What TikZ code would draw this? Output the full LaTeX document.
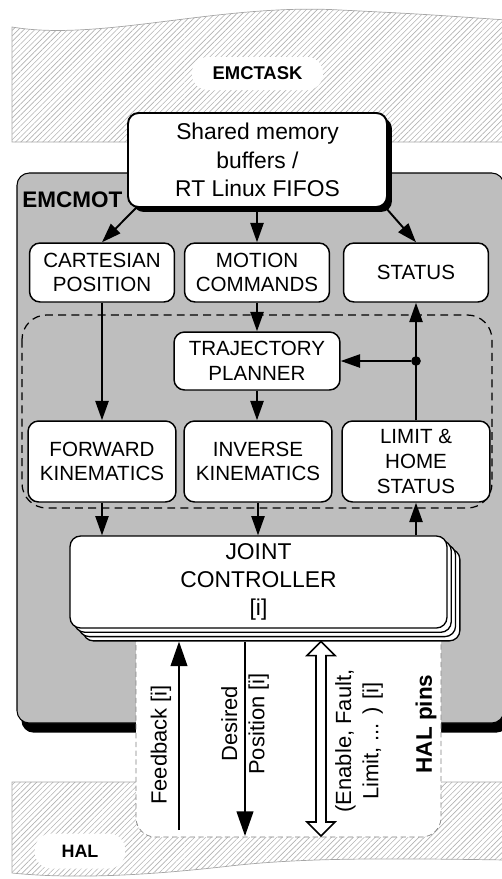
\documentclass[tikz,border=0pt]{standalone}
\usepackage{fontspec}
\setmainfont{Liberation Sans}
\usepackage{tikz}
\usetikzlibrary{positioning,calc,arrows.meta,patterns.meta,shadows}
\definecolor{emcgray}{RGB}{190,190,190}

\begin{document}
\begin{tikzpicture}[x=0.02cm,y=-0.02cm,
    hatch/.style={draw=gray!70,line width=0.4pt,pattern={Lines[angle=45,distance=2.2pt,line width=0.35pt]},pattern color=gray!60},
    blob/.style={fill=white,rounded corners=9pt,inner sep=0pt},
    block/.style={draw,fill=white,rounded corners=6pt,line width=0.85pt,align=center,inner sep=0pt,font=\fontsize{11.7}{14}\selectfont},
    jcbox/.style={draw,fill=white,rounded corners=6pt,line width=0.75pt,minimum width=7.54cm,minimum height=1.84cm,inner sep=0pt,align=center,font=\fontsize{13}{15.9}\selectfont},
    flow/.style={line width=1.1pt,-{Triangle[length=11pt,width=7.5pt]}},
    pinflow/.style={line width=1.1pt,-{Triangle[length=14pt,width=9.5pt]}},
    dot/.style={circle,fill,inner sep=0pt,minimum size=5.5pt},
    pinlabel/.style={rotate=90,align=center,font=\fontsize{12.5}{15.5}\selectfont}]

\useasboundingbox (0,0) rectangle (502,879);

\path[hatch] (12,27) .. controls (100,42) and (220,3) .. (340,10) .. controls (420,14) .. (506,20) -- (506,142) -- (12,142) -- cycle;
\node[blob,minimum width=2.62cm,minimum height=0.66cm,font=\bfseries\fontsize{10.5}{12}\selectfont] (emctask) at (257.5,73.5) {EMCTASK};

\path[hatch] (12,782) -- (506,782) -- (506,860) .. controls (380,858) and (300,858) .. (230,866) .. controls (160,874) and (80,880) .. (12,873) -- cycle;
\node[blob,minimum width=1.8cm,minimum height=0.7cm,font=\bfseries\fontsize{10.2}{12}\selectfont] (hal) at (80,851) {HAL};

\draw[fill=emcgray,line width=0.6pt,rounded corners=7pt,drop shadow={shadow xshift=2.5pt,shadow yshift=-5.5pt,opacity=1,fill=black}] (17,173) rectangle (504,723);
\node[anchor=west,inner sep=0pt,font=\bfseries\fontsize{12.8}{14}\selectfont] (emcmot) at (22,199.5) {EMCMOT};

\draw[fill=white,draw=gray,densely dashed,line width=0.4pt,rounded corners=11pt] (136,610) -- (136,837) -- (441,837) -- (441,610);

\draw[dash pattern=on 4.5pt off 3pt,line width=0.7pt,rounded corners=14pt] (22,315) rectangle (492,508);

\node[draw,fill=white,rounded corners=6pt,line width=1.1pt,minimum width=5.18cm,minimum height=1.88cm,inner sep=0pt,align=center,
      font=\fontsize{13}{16.4}\selectfont,drop shadow={shadow xshift=2.8pt,shadow yshift=-2.8pt,opacity=1,fill=black}]
    (shm) at (257.5,160) {Shared memory\\buffers /\\RT Linux FIFOS};

\foreach \x/\name/\txt in {102/cart/{CARTESIAN\\POSITION},257/motion/{MOTION\\COMMANDS},416/status/STATUS} {
    \node[block,minimum width=2.9cm,minimum height=1.18cm] (\name) at (\x,272.5) {\txt};
}
\node[block,minimum width=3.32cm,minimum height=1.16cm] (traj) at (257,361) {TRAJECTORY\\PLANNER};
\foreach \x/\name/\txt in {102/fwd/{FORWARD\\KINEMATICS},258/inv/{INVERSE\\KINEMATICS},416/limit/{LIMIT \&\\HOME\\STATUS}} {
    \node[block,minimum width=2.96cm,minimum height=1.62cm] (\name) at (\x,461.5) {\txt};
}

\coordinate (jcpos) at (258.5,582);
\foreach \k in {3,2,1} {
    \node[jcbox] (jc\k) at ($(jcpos)+(4.3*\k,4.3*\k)$) {};
}
\node[jcbox] (jc) at (jcpos) {JOINT\\CONTROLLER\\{[i]}};

\draw[flow] ($(shm.south west)+(9,0)$) -- (cart.north);
\draw[flow] (shm.south -| motion.north) -- (motion.north);
\draw[flow] ($(shm.south east)+(-2,0)$) -- (status.north);
\draw[flow] (cart.south) -- (fwd.north);
\draw[flow] (motion.south) -- (motion.south |- traj.north);
\draw[flow] (traj.south) -- (traj.south |- inv.north);
\draw[flow] (fwd.south) -- (fwd.south |- jc.north);
\draw[flow] (inv.south) -- (inv.south |- jc.north);
\draw[flow] (limit.south |- jc.north) -- (limit.south);
\draw[flow] (limit.north) -- (status.south);
\node[dot] (tap) at (limit.north |- traj.east) {};
\draw[flow] (tap) -- (traj.east);

\coordinate (fbfoot) at (179,830);
\draw[pinflow] (fbfoot) -- (fbfoot |- jc3.south);
\coordinate (dpfoot) at (245,836);
\draw[pinflow] (jc3.south -| dpfoot) -- (dpfoot);
\coordinate (enfoot) at (321,836);
\coordinate (entop) at (jc3.south -| enfoot);
\draw[line width=0.9pt,fill=white] (entop) -- ($(entop)+(14,14)$) -- ($(entop)+(5,14)$) -- ($(enfoot)+(5,-14)$) -- ($(enfoot)+(14,-14)$) -- (enfoot)
    -- ($(enfoot)+(-14,-14)$) -- ($(enfoot)+(-5,-14)$) -- ($(entop)+(-5,14)$) -- ($(entop)+(-14,14)$) -- cycle;

\node[pinlabel] (fblabel) at (161,745) {Feedback [i]};
\node[pinlabel] (dplabel) at (245,724) {Desired\\Position [i]};
\node[pinlabel] (enlabel) at (359,741) {(Enable, Fault,\\Limit, ... ) [i]};
\node[pinlabel,font=\bfseries\fontsize{12.8}{15}\selectfont] (hallabel) at (426,724) {HAL pins};
\end{tikzpicture}
\end{document}
